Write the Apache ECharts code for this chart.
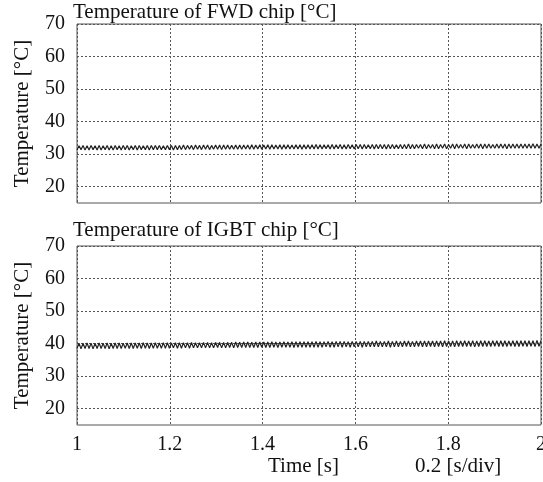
<!DOCTYPE html>
<html>
<head>
<meta charset="utf-8">
<script src="https://cdn.jsdelivr.net/npm/echarts@6/dist/echarts.min.js"></script>
<style>
  html, body { margin: 0; padding: 0; background: #fff; }
  #main { width: 543px; height: 482px; }
</style>
</head>
<body>
<div id="main"></div>
<script>
  // 时间刻度
  var timeTicks = [1, 1.2, 1.4, 1.6, 1.8, 2];
  var tempTicks = [20, 30, 40, 50, 60, 70];

  // FWD 芯片温度
  var fwdTemp = [
    31.3,32.6,31.4,32.7,31.3,32.6,31.3,32.7,31.4,32.6,31.3,32.7,31.3,32.6,31.4,32.7,31.3,32.6,31.3,32.7,
    31.4,32.6,31.3,32.7,31.4,32.7,31.3,32.6,31.4,32.7,31.3,32.7,31.4,32.6,31.4,32.7,31.3,32.7,31.4,32.7,
    31.4,32.7,31.4,32.6,31.4,32.7,31.4,32.7,31.3,32.7,31.4,32.7,31.4,32.8,31.4,32.7,31.5,32.7,31.4,32.8,
    31.5,32.7,31.4,32.8,31.5,32.8,31.4,32.7,31.5,32.8,31.5,32.8,31.4,32.8,31.5,32.8,31.5,32.7,31.5,32.8,
    31.5,32.8,31.5,32.8,31.6,32.8,31.5,32.9,31.5,32.8,31.6,32.9,31.5,32.8,31.6,32.9,31.5,32.9,31.6,32.8,
    31.6,32.9,31.5,32.9,31.6,32.9,31.6,32.8,31.6,32.9,31.6,32.9,31.5,32.9,31.6,32.9,31.6,32.9,31.6,33.0,
    31.6,32.9,31.6,32.9,31.7,32.9,31.6,33.0,31.6,32.9,31.7,33.0,31.6,32.9,31.6,33.0,31.7,32.9,31.6,33.0,
    31.7,33.0,31.6,33.0,31.7,32.9,31.7,33.0,31.6,33.0,31.7,33.0,31.7,33.0,31.6,33.0,31.7,33.0,31.7,32.9,
    31.7,33.0,31.7,33.0,31.7,33.1,31.7,33.0,31.7,33.0,31.8,33.0,31.7,33.1,31.7,33.0,31.8,33.0,31.7,33.1,
    31.7,33.0,31.8,33.1,31.7,33.0,31.8,33.1,31.7,33.1,31.8,33.0,31.8,33.1,31.7,33.1,31.8,33.0,31.8,33.1,
    31.8,33.1,31.7,33.1,31.8,33.1,31.8,33.0,31.8,33.1,31.8,33.1,31.8,33.1,31.7,33.1,31.8,33.1,31.8,33.1,
    31.8,33.1,31.8,33.1,31.8,33.1,31.8,33.2,31.8,33.1,31.8,33.1
  ];

  // IGBT 芯片温度
  var igbtTemp = [
    38.5,40.1,38.4,40.1,38.5,40.2,38.5,40.1,38.4,40.1,38.5,40.2,38.5,40.1,38.5,40.2,38.4,40.1,38.5,40.2,
    38.5,40.2,38.5,40.1,38.6,40.2,38.5,40.2,38.5,40.2,38.6,40.2,38.5,40.3,38.6,40.2,38.5,40.2,38.6,40.3,
    38.6,40.2,38.6,40.3,38.6,40.3,38.6,40.2,38.7,40.3,38.6,40.3,38.6,40.3,38.7,40.3,38.6,40.4,38.7,40.3,
    38.7,40.3,38.7,40.4,38.7,40.4,38.7,40.3,38.7,40.4,38.8,40.4,38.7,40.4,38.7,40.4,38.8,40.4,38.7,40.5,
    38.8,40.4,38.8,40.5,38.8,40.5,38.8,40.4,38.8,40.5,38.8,40.5,38.9,40.5,38.8,40.5,38.8,40.6,38.9,40.5,
    38.8,40.5,38.9,40.6,38.9,40.5,38.9,40.6,38.8,40.6,38.9,40.6,38.9,40.6,38.9,40.6,38.9,40.6,38.9,40.7,
    38.9,40.6,38.9,40.6,39.0,40.7,38.9,40.6,38.9,40.7,39.0,40.7,38.9,40.7,39.0,40.6,38.9,40.7,39.0,40.7,
    39.0,40.7,38.9,40.7,39.0,40.7,39.0,40.7,39.0,40.8,39.0,40.7,39.0,40.7,39.0,40.8,38.9,40.7,39.0,40.8,
    39.0,40.7,39.0,40.8,39.1,40.8,39.0,40.7,39.0,40.8,39.1,40.8,39.0,40.8,39.0,40.8,39.1,40.8,39.0,40.8,
    39.1,40.8,39.0,40.9,39.1,40.8,39.1,40.8,39.0,40.9,39.1,40.8,39.1,40.9,39.1,40.8,39.1,40.9,39.0,40.8,
    39.1,40.9,39.1,40.9,39.1,40.8,39.1,40.9,39.2,40.9,39.1,40.9,39.1,40.9,39.1,40.8,39.2,40.9,39.1,40.9,
    39.1,40.9,39.2,40.9,39.1,40.9,39.2,40.9,39.1,41.0,39.2,40.9
  ];

  function toPairs(arr) {
    var out = [];
    for (var i = 0; i < arr.length; i++) {
      out.push([1 + i / (arr.length - 1), arr[i]]);
    }
    return out;
  }

  var font = 'Liberation Serif, Times New Roman, serif';
  var gridLineStyle = { color: '#555', type: [2, 2], width: 1 };

  function xAxisCfg(idx, showLabel) {
    return {
      type: 'value', gridIndex: idx, min: 1, max: 2, interval: 0.2,
      axisLine: { show: false },
      axisTick: { show: false },
      splitLine: { show: true, lineStyle: gridLineStyle },
      axisLabel: {
        show: showLabel, margin: 10, color: '#111', fontFamily: font, fontSize: 20,
        formatter: function (v) { return String(Math.round(v * 10) / 10); }
      }
    };
  }

  function yAxisCfg(idx) {
    return {
      type: 'value', gridIndex: idx, min: 15, max: 70, interval: 5,
      name: 'Temperature [°C]', nameLocation: 'middle', nameGap: 44,
      nameTextStyle: { color: '#111', fontFamily: font, fontSize: 21 },
      axisLine: { show: false },
      axisTick: { show: false },
      splitLine: {
        show: true,
        // 只在 10 的倍数处画网格线
        lineStyle: { color: ['rgba(0,0,0,0)', '#555'], type: [2, 2], width: 1 }
      },
      axisLabel: {
        margin: 12, color: '#111', fontFamily: font, fontSize: 20,
        formatter: function (v) { return tempTicks.indexOf(v) >= 0 ? String(v) : ''; }
      }
    };
  }

  var myChart = echarts.init(document.getElementById('main'));
  var option = {
    animation: false,
    backgroundColor: '#fff',
    title: [
      { text: 'Temperature of FWD chip [°C]', left: 73, top: 2, padding: 0,
        textStyle: { color: '#111', fontFamily: font, fontSize: 21, fontWeight: 'normal' } },
      { text: 'Temperature of IGBT chip [°C]', left: 73, top: 220, padding: 0,
        textStyle: { color: '#111', fontFamily: font, fontSize: 21, fontWeight: 'normal' } }
    ],
    grid: [
      { left: 77, right: 2, top: 24, height: 179, outerBoundsMode: 'none', show: true, borderColor: '#555', borderWidth: 1, backgroundColor: 'transparent' },
      { left: 77, right: 2, top: 246, height: 179, outerBoundsMode: 'none', show: true, borderColor: '#555', borderWidth: 1, backgroundColor: 'transparent' }
    ],
    xAxis: [xAxisCfg(0, false), xAxisCfg(1, true)],
    yAxis: [yAxisCfg(0), yAxisCfg(1)],
    graphic: [
      { type: 'text', left: 268, top: 456, style: { text: 'Time [s]', fill: '#111', font: '21px ' + font } },
      { type: 'text', left: 415, top: 456, style: { text: '0.2 [s/div]', fill: '#111', font: '21px ' + font } }
    ],
    series: [
      { type: 'line', xAxisIndex: 0, yAxisIndex: 0, data: toPairs(fwdTemp), showSymbol: false,
        sampling: null, lineStyle: { color: '#222', width: 1.2 } },
      { type: 'line', xAxisIndex: 1, yAxisIndex: 1, data: toPairs(igbtTemp), showSymbol: false,
        sampling: null, lineStyle: { color: '#222', width: 1.2 } }
    ]
  };
  myChart.setOption(option, true);
</script>
</body>
</html>
